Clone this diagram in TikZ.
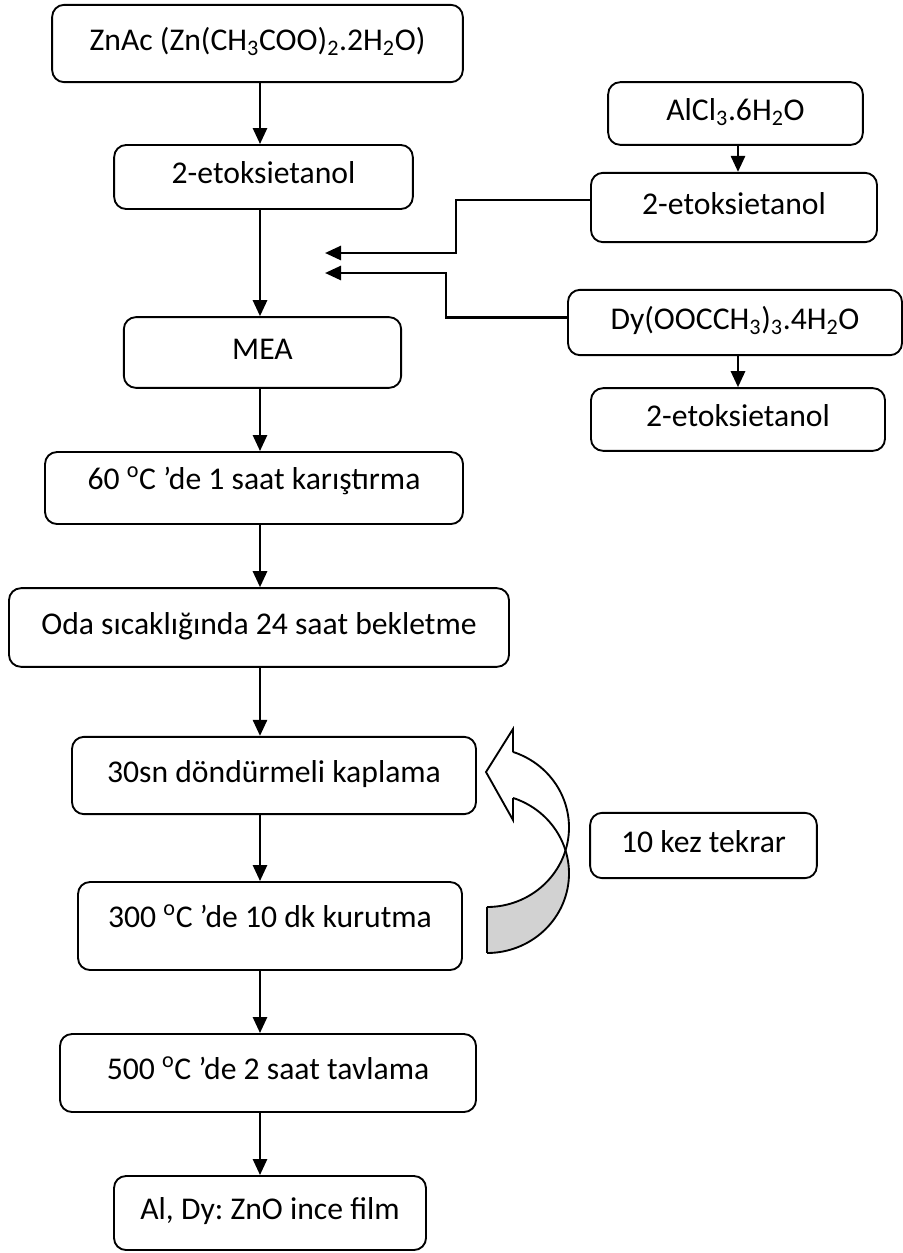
\documentclass[tikz,border=0pt]{standalone}
\usepackage{fontspec}
\setmainfont{Carlito}
\usetikzlibrary{arrows.meta}
\newcommand{\degC}{\textsuperscript{o}C}
\frenchspacing

\begin{document}
\begin{tikzpicture}[x=0.75pt,y=-0.75pt,
  box/.style={draw,line width=1.4pt,rounded corners=9pt,align=center,inner sep=0pt,
    font=\fontsize{23.75}{28}\selectfont,text height=16pt,text depth=6pt},
  up/.style={text depth=14pt},
  arr/.style={line width=2pt,-{Triangle[length=12pt,width=10.5pt]}}]
  \useasboundingbox (0,0) rectangle (903,1253);
  % main column
  \node[box,minimum width=308pt,minimum height=58pt] (zn) at (257.5,43.5) {ZnAc (Zn(CH\textsubscript{3}COO)\textsubscript{2}.2H\textsubscript{2}O)};
  \node[box,minimum width=224pt,minimum height=48pt] (eto1) at (263.5,177) {2-etoksietanol};
  \node[box,minimum width=208pt,minimum height=53pt] (mea) at (262.5,352.5) {MEA};
  \node[box,up,minimum width=313.5pt,minimum height=54pt] (mix) at (254,488) {60 \degC\ ’de 1 saat karıştırma};
  \node[box,minimum width=375pt,minimum height=59pt] (oda) at (259,627.5) {Oda sıcaklığında 24 saat bekletme};
  \node[box,minimum width=303pt,minimum height=58pt] (spin) at (274,775.5) {30sn döndürmeli kaplama};
  \node[box,up,minimum width=288pt,minimum height=66pt] (dry) at (270,926) {300 \degC\ ’de 10 dk kurutma};
  \node[box,minimum width=312pt,minimum height=58.5pt] (ann) at (268,1073) {500 \degC\ ’de 2 saat tavlama};
  \node[box,minimum width=234pt,minimum height=55.5pt] (film) at (270,1213) {Al, Dy: ZnO ince film};
  % dopant sources
  \node[box,minimum width=191pt,minimum height=47pt] (alcl) at (735.5,113.5) {AlCl\textsubscript{3}.6H\textsubscript{2}O};
  \node[box,minimum width=214.5pt,minimum height=52pt] (eto2) at (734,207.5) {2-etoksietanol};
  \node[box,minimum width=250.5pt,minimum height=49pt] (dy) at (735,322.5) {Dy(OOCCH\textsubscript{3})\textsubscript{3}.4H\textsubscript{2}O};
  \node[box,minimum width=220.5pt,minimum height=47pt] (eto3) at (738,419.5) {2-etoksietanol};
  \node[box,minimum width=170pt,minimum height=49pt] (rep) at (703.5,845.5) {10 kez tekrar};

  \coordinate (sp) at (260,0);
  \coordinate (rs) at (738,0);
  \coordinate (in1) at (325,253);
  \coordinate (in2) at (325,273);
  \foreach \a/\b in {zn/eto1,eto1/mea,mea/mix,mix/oda,oda/spin,spin/dry,dry/ann,ann/film}
    \draw[arr] (\a.south -| sp) -- (\b.north -| sp);
  \draw[arr] (alcl.south -| rs) -- (eto2.north -| rs);
  \draw[arr] (dy.south -| rs) -- (eto3.north -| rs);
  \draw[arr] ([yshift=5.6pt]eto2.west) -- ++(-134,0) |- (in1);
  \draw[arr] ([yshift=4pt]dy.west) -- ++(-121,0) |- (in2);

  % curved return arrow
  \fill[gray!35] plot[domain=-16.8:-90,samples=40] ({487+82*cos(\x)},{827.4-79.6*sin(\x)})
    -- plot[domain=-90:16.8,samples=40] ({487+82*cos(\x)},{873.4-79.6*sin(\x)}) -- cycle;
  \draw[line width=1.4pt] plot[domain=71.5:-90,samples=80] ({487+82*cos(\x)},{827.4-79.6*sin(\x)});
  \draw[line width=1.4pt] plot[domain=71.5:-90,samples=80] ({487+82*cos(\x)},{873.4-79.6*sin(\x)});
  \draw[line width=1.4pt] (487,907) -- (487,953);
  \draw[line width=1.4pt,line join=miter] (513,752) -- (513,729) -- (486,772) -- (513,820) -- (513,798);
\end{tikzpicture}
\end{document}
